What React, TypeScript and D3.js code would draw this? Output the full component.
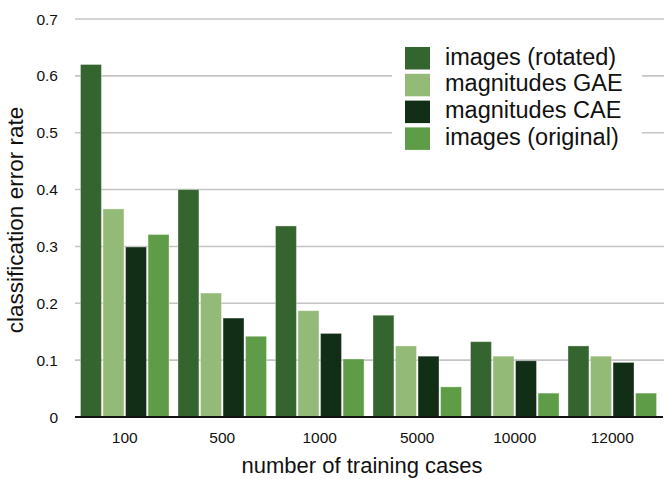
import React from "react";
import * as d3 from "d3";

const categories = ["100", "500", "1000", "5000", "10000", "12000"];
const seriesNames = ["images (rotated)", "magnitudes GAE", "magnitudes CAE", "images (original)"];
const rotated = [0.62, 0.4, 0.336, 0.179, 0.1325, 0.125];
const gae = [0.366, 0.218, 0.187, 0.125, 0.107, 0.107];
const cae = [0.299, 0.174, 0.147, 0.107, 0.099, 0.096];
const original = [0.321, 0.142, 0.102, 0.053, 0.042, 0.042];
const colors = ["#35652f", "#94ba77", "#122e17", "#5e9c47"];
const yTicks = [0, 0.1, 0.2, 0.3, 0.4, 0.5, 0.6, 0.7];

const W = 664;
const H = 479;
const FONT = "'Liberation Sans', Arial, Helvetica, sans-serif";

export default function App() {
  const series = [rotated, gae, cae, original];
  const x0 = d3.scaleBand<string>().domain(categories).range([76, 661]).paddingInner(0.092).paddingOuter(0.046);
  const x1 = d3.scaleBand<number>().domain([0, 1, 2, 3]).range([0, x0.bandwidth()]).paddingInner(0.07);
  const y = d3.scaleLinear().domain([0, 0.7]).range([417, 19]);
  const fmt = (v: number) => (v === 0 ? "0" : d3.format(".1f")(v));

  return (
    <svg width={W} height={H} style={{ position: "absolute", left: 0, top: 0, background: "#fff" }} fontFamily={FONT}>
      <rect x={0} y={0} width={W} height={H} fill="#fff" />
      {yTicks.filter((t) => t > 0).map((t) => (
        <line key={t} x1={75} x2={664} y1={y(t)} y2={y(t)} stroke="#c4c4c4" strokeWidth={1.6} />
      ))}
      {yTicks.map((t) => (
        <text key={"l" + t} x={58} y={y(t) + 5.5} textAnchor="end" fontSize={15.5} fill="#111">
          {fmt(t)}
        </text>
      ))}
      {categories.map((c, ci) => (
        <g key={c} transform={`translate(${x0(c)},0)`}>
          {series.map((s, si) => (
            <rect
              key={si}
              x={x1(si)}
              y={y(s[ci])}
              width={x1.bandwidth()}
              height={y(0) - y(s[ci])}
              fill={colors[si]}
              stroke="rgba(255,255,255,0.35)"
              strokeWidth={1}
            />
          ))}
          <text x={x0.bandwidth() / 2} y={443} textAnchor="middle" fontSize={15.5} fill="#111">
            {c}
          </text>
        </g>
      ))}
      <line x1={75} x2={663} y1={y(0)} y2={y(0)} stroke="#111" strokeWidth={2} />
      <text x={362} y={473} textAnchor="middle" fontSize={22} fill="#111">
        number of training cases
      </text>
      <text transform={`translate(23,220) rotate(-90)`} textAnchor="middle" fontSize={22.5} fill="#111">
        classification error rate
      </text>
      <rect x={392} y={38} width={250} height={120} fill="#fff" />
      {seriesNames.map((n, i) => (
        <g key={n} transform={`translate(405,${47 + i * 26.8})`}>
          <rect x={0} y={0} width={25} height={22.5} fill={colors[i]} />
          <text x={40} y={17.5} fontSize={23.5} fill="#111">
            {n}
          </text>
        </g>
      ))}
    </svg>
  );
}
